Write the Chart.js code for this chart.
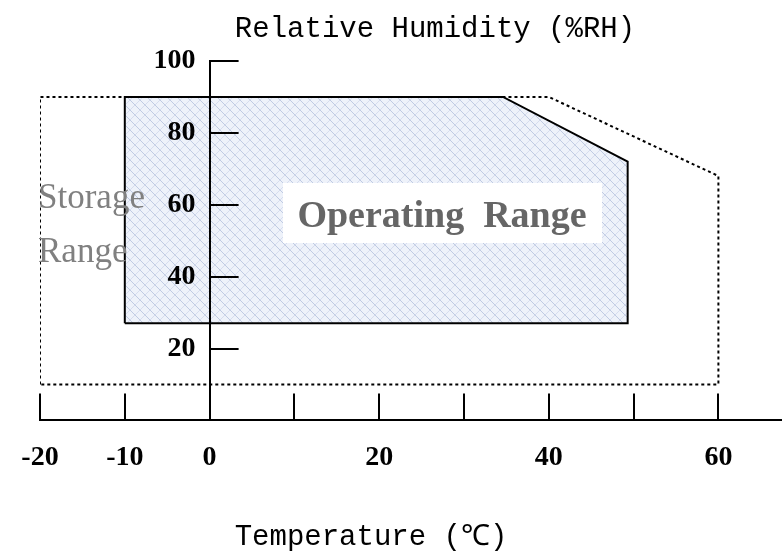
<!DOCTYPE html>
<html>
<head>
<meta charset="utf-8">
<script src="https://cdn.jsdelivr.net/npm/chart.js@4"></script>
<style>
  body { margin: 0; background: #fff; }
</style>
</head>
<body>
<canvas id="range_chart" width="782" height="559"></canvas>
<script>
// 保管範囲 (点線)
var storageTemp = [-20, -20, 40, 60, 60, -20];
var storageRH = [10, 90, 90, 68, 10, 10];
// 動作範囲 (実線)
var operatingTemp = [-10, -10, 34.6, 49.3, 49.3, -10];
var operatingRH = [27, 90, 90, 72, 27, 27];
// 目盛り
var tempTicks = [-20, -10, 0, 20, 40, 60];//ラベルを出す温度
var rhTicks = [20, 40, 60, 80, 100];

function toPoints(xs, ys) {
  return xs.map(function (x, i) { return { x: x, y: ys[i] }; });
}

//斜め格子の塗り
function makePattern() {
  let c = document.createElement('canvas');
  c.width = 10; c.height = 10;
  let g = c.getContext('2d');
  g.fillStyle = '#eef2fa';
  g.fillRect(0, 0, 10, 10);
  g.strokeStyle = 'rgba(160,175,210,0.6)';
  g.lineWidth = 1;
  g.beginPath();
  g.moveTo(-1, -1); g.lineTo(11, 11);
  g.stroke();
  g.strokeStyle = 'rgba(175,188,220,0.4)';
  g.beginPath();
  g.moveTo(-1, 11); g.lineTo(11, -1);
  g.stroke();
  return g.createPattern(c, 'repeat');
}

//目盛り線・文字
const decoPlugin = {
  id: 'deco',
  afterDatasetsDraw(chart) {
    const ctx = chart.ctx;
    ctx.save();
    // Storage Range
    ctx.fillStyle = '#808080';
    ctx.font = '35px "Liberation Serif"';
    ctx.textAlign = 'left';
    ctx.textBaseline = 'alphabetic';
    ctx.fillText('Storage', 38, 208);
    ctx.fillText('Range', 38, 262);
    // Operating Range
    ctx.fillStyle = '#fff';
    ctx.fillRect(283, 183, 319, 60);
    ctx.fillStyle = '#666';
    ctx.font = 'bold 38px "Liberation Serif"';
    ctx.textAlign = 'center';
    ctx.fillText('Operating  Range', 442, 227);
    ctx.restore();
  },
  afterDraw(chart) {
    const ctx = chart.ctx;
    const xs = chart.scales.x, ys = chart.scales.y;
    const x0 = xs.getPixelForValue(0);
    const yb = ys.getPixelForValue(0);
    ctx.save();
    ctx.strokeStyle = '#000';
    ctx.lineWidth = 2;
    ctx.beginPath();
    xs.ticks.forEach(function (t) {
      const px = Math.round(xs.getPixelForValue(t.value));
      ctx.moveTo(px, yb);
      ctx.lineTo(px, yb - 27);
    });
    rhTicks.forEach(function (v) {
      const py = Math.round(ys.getPixelForValue(v));
      ctx.moveTo(x0, py);
      ctx.lineTo(x0 + 29, py);
    });
    ctx.stroke();
    ctx.fillStyle = '#000';
    ctx.font = '29px "Liberation Mono"';
    ctx.textAlign = 'center';
    ctx.textBaseline = 'alphabetic';
    ctx.fillText('Relative Humidity (%RH)', 435, 37);
    ctx.fillText('Temperature (℃)', 371, 545);
    ctx.restore();
  }
};

window.onload = function () {
  let context = document.querySelector('#range_chart').getContext('2d');
  let pat = makePattern();
  new Chart(context, {
    type: 'scatter',
    data: {
      datasets: [{
        label: 'Operating Range',
        data: toPoints(operatingTemp, operatingRH),
        showLine: true,
        fill: 'shape',
        backgroundColor: pat,
        borderColor: '#000',
        borderWidth: 2,
        pointRadius: 0,
        tension: 0
      }, {
        label: 'Storage Range',
        data: toPoints(storageTemp, storageRH),
        showLine: true,
        fill: false,
        borderColor: '#000',
        borderWidth: 2,
        borderDash: [3, 3],
        pointRadius: 0,
        tension: 0
      }]
    },
    options: {
      responsive: false,
      animation: false,
      layout: { padding: { top: 61, left: 40, right: 0, bottom: 63 } },
      plugins: {
        legend: { display: false },
        tooltip: { enabled: false }
      },
      scales: {
        x: {
          type: 'linear',
          position: 'bottom',
          min: -20,
          max: 67.5,
          grid: { drawOnChartArea: false, drawTicks: false, color: 'rgba(0,0,0,0)' },
          border: { display: true, color: '#000', width: 2, z: 1 },
          ticks: {
            z: 1,
            stepSize: 10,
            includeBounds: false,
            autoSkip: false,
            maxRotation: 0,
            padding: 21,
            color: '#000',
            font: { family: '"Liberation Serif"', size: 28, weight: 'bold' },
            callback: function (v) { return tempTicks.indexOf(v) >= 0 ? String(v) : ''; }
          }
        },
        y: {
          type: 'linear',
          position: { x: 0 },
          min: 0,
          max: 100,
          grid: { drawOnChartArea: false, drawTicks: false, color: 'rgba(0,0,0,0)' },
          border: { display: true, color: '#000', width: 2, z: 1 },
          ticks: {
            z: 1,
            stepSize: 20,
            color: '#000',
            font: { family: '"Liberation Serif"', size: 28, weight: 'bold' },
            //軸の左に少し隙間をあける
            callback: function (v) { return rhTicks.indexOf(v) >= 0 ? v + '  ' : ''; }
          }
        }
      }
    },
    plugins: [decoPlugin]
  });
};
</script>
</body>
</html>
